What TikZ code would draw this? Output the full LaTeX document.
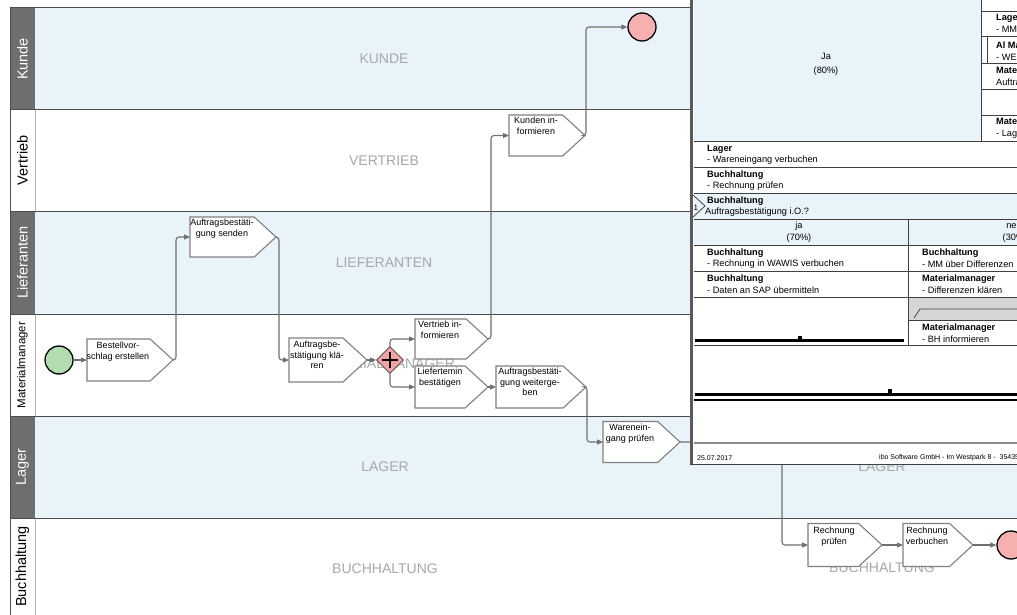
\documentclass[tikz,border=0pt]{standalone}
\usepackage{fontspec}
\setmainfont{Liberation Sans}
\usetikzlibrary{shapes.symbols,shapes.geometric,arrows.meta}
\definecolor{laneblue}{HTML}{E9F3FA}
\definecolor{hdgray}{HTML}{6E6E6E}
\definecolor{lblgray}{HTML}{A8A8A8}
\definecolor{linegray}{HTML}{4D4D4D}
\definecolor{hdsep}{HTML}{B0B0B0}
\definecolor{taskgray}{HTML}{808080}
\definecolor{flowgray}{HTML}{707070}
\definecolor{startgreen}{HTML}{B3DDB0}
\definecolor{endpink}{HTML}{F6B0B0}
\definecolor{gwpink}{HTML}{F2A2A2}
\definecolor{pblue}{HTML}{E9F3FA}
\definecolor{pband}{HTML}{D6D6D6}
\definecolor{pdark}{HTML}{404040}
\definecolor{pborder}{HTML}{5A5A5A}
\begin{document}
\begin{tikzpicture}[x=1pt,y=-1pt,
  laneline/.style={draw=linegray,line width=1},
  hdtxt/.style={rotate=90,font=\fontsize{14.5}{16}\selectfont,inner sep=0},
  lanelbl/.style={text=lblgray,font=\fontsize{14}{16}\selectfont,inner sep=0},
  task/.style={signal,signal to=east,signal pointer angle=85,draw=taskgray,fill=white,line width=1.1,inner sep=0,outer sep=0,anchor=west},
  tasktxt/.style={font=\fontsize{9}{10.5}\selectfont,align=center,anchor=north,inner sep=0},
  flow/.style={draw=flowgray,line width=1.1,rounded corners=3,-{Triangle[length=6,width=5]}},
  event/.style={circle,draw=black,line width=1.3,minimum size=28,inner sep=0},
  pline/.style={draw=pdark,line width=0.8},
  ptxt/.style={font=\fontsize{9.2}{11}\selectfont,anchor=west,inner sep=0},
  pbold/.style={ptxt,font=\fontsize{9.2}{11}\selectfont\bfseries},
  pctr/.style={font=\fontsize{9.2}{12}\selectfont,align=center,inner sep=0},
]
\useasboundingbox (0,0) rectangle (1017,615);
\fill[white] (0,0) rectangle (1017,615);
% lanes
\fill[laneblue] (35,8) rectangle (1017,110);
\fill[laneblue] (35,211) rectangle (1017,314);
\fill[laneblue] (35,416) rectangle (1017,518);
\fill[hdgray] (10,8) rectangle (35,110);
\fill[hdgray] (10,211) rectangle (35,314);
\fill[hdgray] (10,416) rectangle (35,518);
\draw[draw=hdsep,line width=0.8] (35,110) -- (35,211);
\draw[draw=hdsep,line width=0.8] (35,314) -- (35,416);
\draw[draw=hdsep,line width=0.8] (35,518) -- (35,615);
\foreach \yy in {8,110,211,314,416,518} \draw[laneline] (10,\yy) -- (1017,\yy);
\draw[laneline] (10,8) -- (10,615);
% headers
\node[hdtxt,text=white] (hkunde) at (22.5,59) {Kunde};
\node[hdtxt] (hvertrieb) at (22.5,160.5) {Vertrieb};
\node[hdtxt,text=white] (hliefer) at (22.5,262.5) {Lieferanten};
\node[hdtxt,font=\fontsize{11.5}{13}\selectfont] (hmm) at (22.5,365) {Materialmanager};
\node[hdtxt,text=white] (hlager) at (22.5,467) {Lager};
\node[hdtxt] (hbuch) at (22.5,566.5) {Buchhaltung};
% lane labels
\node[lanelbl] (lkunde) at (384,59) {KUNDE};
\node[lanelbl] (lvertrieb) at (384,161) {VERTRIEB};
\node[lanelbl] (lliefer) at (384,263) {LIEFERANTEN};
\node[lanelbl] (lmm) at (385,364) {MATERIALMANAGER};
\node[lanelbl] (llager) at (385,467) {LAGER};
\node[lanelbl] (lbuch) at (385,569) {BUCHHALTUNG};
\node[lanelbl] (llager2) at (882,467) {LAGER};
\node[lanelbl] (lbuch2) at (882,568) {BUCHHALTUNG};
% events and tasks
\node[event,fill=startgreen] (start) at (59,360) {};
\node[event,fill=endpink] (end1) at (642,27) {};
\node[event,fill=endpink] (end2) at (1011,545) {};
\node[task,minimum width=86,minimum height=42] (b1) at (87,360) {};
\node[task,minimum width=86,minimum height=40] (b2) at (190,237) {};
\node[task,minimum width=78,minimum height=44] (b3) at (289,360) {};
\node[diamond,draw=pdark,fill=gwpink,line width=0.8,minimum width=27,minimum height=27,inner sep=0] (gw) at (390,360) {};
\draw[line width=1.8] ([xshift=-8]gw.center) -- ([xshift=8]gw.center);
\draw[line width=1.8] ([yshift=-8]gw.center) -- ([yshift=8]gw.center);
\node[task,minimum width=73,minimum height=40] (b5) at (415,339) {};
\node[task,minimum width=73,minimum height=42] (b6) at (415,387) {};
\node[task,minimum width=90,minimum height=42] (b7) at (496,387) {};
\node[task,minimum width=76,minimum height=41] (b8) at (509,135.5) {};
\node[task,minimum width=77,minimum height=41] (b9) at (603,442) {};
\node[task,minimum width=74,minimum height=43] (b10) at (808,545) {};
\node[task,minimum width=70,minimum height=43] (b11) at (903,545) {};
\node[tasktxt] (b1t) at (118,342) {Bestellvor-\\schlag erstellen};
\node[tasktxt] (b2t) at (222,219) {Auftragsbestäti-\\gung senden};
\node[tasktxt] (b3t) at (317,341) {Auftragsbe-\\stätigung klä-\\ren};
\node[tasktxt] (b5t) at (440,321) {Vertrieb in-\\formieren};
\node[tasktxt] (b6t) at (440,368) {Liefertemin\\bestätigen};
\node[tasktxt] (b7t) at (530,368) {Auftragsbestäti-\\gung weiterge-\\ben};
\node[tasktxt] (b8t) at (536,117) {Kunden in-\\formieren};
\node[tasktxt] (b9t) at (630,424) {Warenein-\\gang prüfen};
\node[tasktxt] (b10t) at (834,527) {Rechnung\\prüfen};
\node[tasktxt] (b11t) at (927,527) {Rechnung\\verbuchen};
% flows
\draw[flow] (start) -- (b1.west);
\draw[flow] (b1.east) -- ++(3,0) |- (b2.west);
\draw[flow] (b2.east) -- ++(3,0) |- (b3.west);
\draw[flow] (b3.east) -- (gw.west);
\draw[flow] (gw.north) |- (b5.west);
\draw[flow] (gw.south) |- (b6.west);
\draw[flow] (b5.east) -- ++(3,0) |- (b8.west);
\draw[flow] (b6.east) -- (b7.west);
\draw[flow] (b7.east) -- ++(1,0) |- (b9.west);
\draw[flow] (b8.east) -- ++(1,0) |- (end1.west);
\draw[flow] (b9.east) -- ++(102,0) |- (b10.west);
\draw[flow] (b10.east) -- (b11.west);
\draw[flow] (b11.east) -- (end2.west);
% overlay panel
\fill[white] (690,0) rectangle (1017,464);
\fill[pblue] (694,0) rectangle (981,141);
\fill[pblue] (694,193) rectangle (1017,245);
\fill[pband] (908,297) rectangle (1017,320);
\draw[pline] (981,0) -- (981,141);
\foreach \yy in {11,36,63,89,115} \draw[pline] (981,\yy) -- (1017,\yy);
\draw[pline] (987,36) -- (987,63);
\foreach \yy in {141,167,193,219,245,271,297,345} \draw[pline] (694,\yy) -- (1017,\yy);
\draw[pline] (908,320) -- (1017,320);
\draw[pline] (908,219) -- (908,345);
\draw[pline] (914,318) -- (920,309) -- (1017,309);
\draw[pline] (693,195) -- (705,206) -- (693,217);
\fill[black] (695,338.5) rectangle (904,342);
\fill[black] (798,335.5) rectangle (802,339);
\fill[black] (695,392.5) rectangle (1017,396);
\fill[black] (888,389) rectangle (892,393);
\draw[black,line width=1.5] (694,400) -- (1017,400);
\draw[draw=black!45,line width=2] (694,443) -- (1017,443);
\draw[draw=pdark,line width=1] (690,464) -- (1017,464);
\draw[draw=pborder,line width=3] (691.5,0) -- (691.5,464);
\node[pctr,font=\fontsize{9.2}{14}\selectfont] (pja80) at (826,64.5) {Ja\\(80\%)};
\node[pbold] (pr1a) at (996,18) {Lager};
\node[ptxt] (pr1b) at (996,29) {- MM};
\node[pbold] (pr2a) at (996,45) {Al Ma};
\node[ptxt] (pr2b) at (996,57) {- WE};
\node[pbold] (pr3a) at (996,71) {Materialmanager};
\node[ptxt] (pr3b) at (996,82) {Auftra};
\node[pbold] (pr5a) at (996,122) {Materialmanager};
\node[ptxt] (pr5b) at (996,134) {- Lager};
\node[pbold] (pl1a) at (707,149) {Lager};
\node[ptxt] (pl1b) at (707,160) {- Wareneingang verbuchen};
\node[pbold] (pl2a) at (707,175) {Buchhaltung};
\node[ptxt] (pl2b) at (707,186) {- Rechnung prüfen};
\node[pbold] (pl3a) at (707,201) {Buchhaltung};
\node[ptxt] (pl3b) at (705,212) {Auftragsbestätigung i.O.?};
\node[ptxt,font=\fontsize{8}{9}\selectfont] (pone) at (693.5,208) {1};
\node[pctr] (pja70) at (799,232) {ja\\(70\%)};
\node[pctr] (pnein) at (1015,232) {nein\\(30\%)};
\node[pbold] (pa1) at (707,253) {Buchhaltung};
\node[ptxt] (pa2) at (707,264) {- Rechnung in WAWIS verbuchen};
\node[pbold] (pa3) at (707,279) {Buchhaltung};
\node[ptxt] (pa4) at (707,290) {- Daten an SAP übermitteln};
\node[pbold] (pn1) at (922,253) {Buchhaltung};
\node[ptxt] (pn2) at (922,264) {- MM über Differenzen};
\node[pbold] (pn3) at (922,279) {Materialmanager};
\node[ptxt] (pn4) at (922,290) {- Differenzen klären};
\node[pbold] (pn5) at (922,328) {Materialmanager};
\node[ptxt] (pn6) at (922,339) {- BH informieren};
\node[ptxt,font=\fontsize{7}{8}\selectfont] (pdate) at (697,458) {25.07.2017};
\node[ptxt,font=\fontsize{7}{8}\selectfont] (pfoot) at (879,458) {ibo Software GmbH - Im Westpark 8 - \ 35435 Wettenberg};
\end{tikzpicture}
\end{document}
